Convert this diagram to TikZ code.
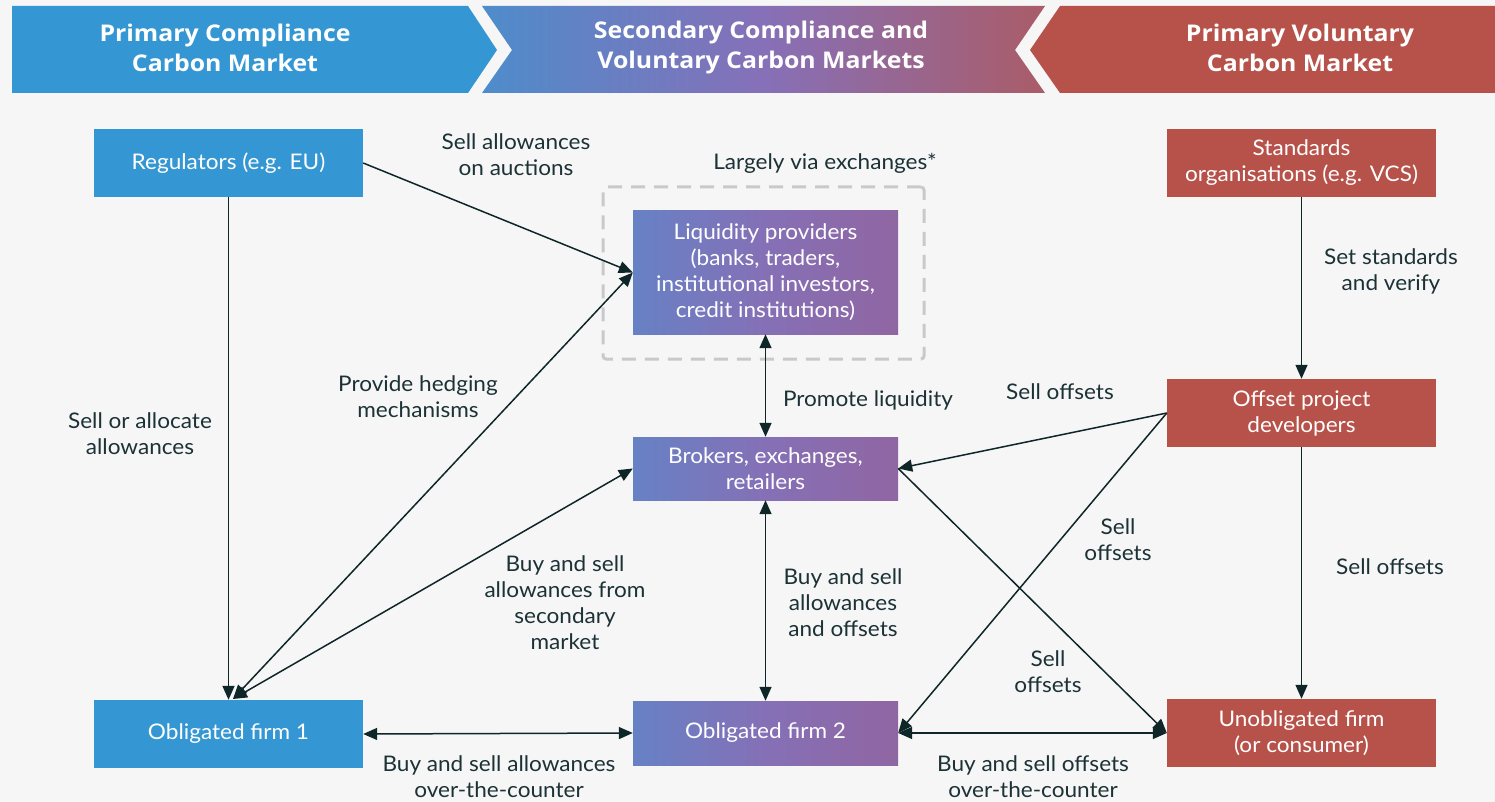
\documentclass[tikz,border=0pt]{standalone}
\usepackage{fontspec}
\setmainfont{Lato}[FakeStretch=1.05]
\newfontfamily\bannerfont{Open Sans}[FakeStretch=1.08]
\usetikzlibrary{arrows.meta}

\definecolor{bg}{HTML}{F6F6F6}
\definecolor{pblue}{HTML}{3497D3}
\definecolor{pred}{HTML}{B7524A}
\definecolor{gleft}{HTML}{6781C5}
\definecolor{gmid}{HTML}{8570B6}
\definecolor{gright}{HTML}{9066A2}
\definecolor{hleft}{HTML}{4E8CCB}
\definecolor{hmid}{HTML}{8670B8}
\definecolor{hright}{HTML}{AA5C68}
\definecolor{ink}{HTML}{1C3236}
\definecolor{arrowink}{HTML}{0F2629}
\definecolor{dashgray}{HTML}{C9C9C9}

\newcommand{\diagbody}{\fontsize{21.5}{26}\selectfont}
\newcommand{\diaghead}{\bannerfont\fontsize{23}{30}\selectfont\bfseries}

\begin{document}
\begin{tikzpicture}[x=1pt,y=-1pt,
  mbox/.style={inner sep=0pt,align=center,text=white,font=\diagbody},
  bluebox/.style={mbox,fill=pblue,minimum width=269pt,minimum height=68pt},
  redbox/.style={mbox,fill=pred,minimum width=269pt,minimum height=68pt},
  gradbox/.style={mbox,left color=gleft,right color=gright,middle color=gmid,minimum width=265pt},
  lbl/.style={inner sep=0pt,align=center,text=ink,font=\diagbody},
  hdr/.style={inner sep=0pt,align=center,text=white,font=\diaghead},
  arr/.style={draw=arrowink,line width=1.5pt,-{Triangle[length=14pt,width=12pt]}},
  dblarr/.style={draw=arrowink,line width=1.5pt,{Triangle[length=14pt,width=12pt]}-{Triangle[length=14pt,width=12pt]}},
]
% canvas
\useasboundingbox (0,0) rectangle (1495,802);
\fill[bg] (0,0) rectangle (1495,802);

% header banner
\fill[pblue] (12,6) -- (468,6) -- (497,50) -- (468,93) -- (12,93) -- cycle;
\path[left color=hleft,right color=hright,middle color=hmid]
  (482,6) -- (1045,6) -- (1015,50) -- (1045,93) -- (482,93) -- (512,50) -- cycle;
\fill[pred] (1060,6) -- (1495,6) -- (1495,93) -- (1060,93) -- (1030,50) -- cycle;
\node[hdr] (h1) at (225,48) {Primary Compliance\\Carbon Market};
\node[hdr] (h2) at (761,48) {Secondary Compliance and\\Voluntary Carbon Markets};
\node[hdr] (h3) at (1300,48) {Primary Voluntary\\Carbon Market};

% exchange group outline
\node[draw=dashgray,line width=3pt,dash pattern=on 14pt off 9pt,rounded corners=3pt,
      minimum width=321pt,minimum height=172pt,inner sep=0pt] (grp) at (763.5,273) {};
\node[lbl] (grplbl) at (825,163) {Largely via exchanges*};

% actors
\node[bluebox] (reg) at (228.5,163) {Regulators (e.g. EU)};
\node[bluebox] (f1) at (228.5,734) {Obligated firm 1};
\node[gradbox,minimum height=123pt] (liq) at (765.5,272.5)
  {Liquidity providers\\(banks, traders,\\institutional investors,\\credit institutions)};
\node[gradbox,minimum height=63pt] (brk) at (765.5,468.5) {Brokers, exchanges,\\retailers};
\node[gradbox,minimum height=64pt] (f2) at (765.5,733) {Obligated firm 2};
\node[redbox] (std) at (1301.5,163) {Standards\\organisations (e.g. VCS)};
\node[redbox] (opd) at (1301.5,413) {Offset project\\developers};
\node[redbox] (unob) at (1301.5,733) {Unobligated firm\\(or consumer)};

\coordinate (f1top) at (233,699);

% flows
\draw[arr] (reg.east) -- (liq.west);
\draw[arr] (reg.south) -- (f1.north);
\draw[dblarr] (f1top) -- (liq.west);
\draw[dblarr] (f1top) -- (brk.west);
\draw[dblarr] (liq.south) -- (brk.north);
\draw[dblarr] (brk.south) -- (f2.north);
\draw[dblarr] (f1.east) -- (f2.west);
\draw[dblarr] (f2.east) -- (unob.west);
\draw[arr] (std.south) -- (opd.north);
\draw[arr] (opd.south) -- (unob.north);
\draw[arr] (opd.west) -- (brk.east);
\draw[arr] (opd.west) -- (f2.east);
\draw[arr] (brk.east) -- (unob.west);

% flow labels
\node[lbl] (l1) at (516,155) {Sell allowances\\on auctions};
\node[lbl] (l2) at (140,434) {Sell or allocate\\allowances};
\node[lbl] (l3) at (418,397) {Provide hedging\\mechanisms};
\node[lbl] (l4) at (868,400) {Promote liquidity};
\node[lbl] (l5) at (1060,392) {Sell offsets};
\node[lbl] (l6) at (565,603) {Buy and sell\\allowances from\\secondary\\market};
\node[lbl] (l7) at (843,603) {Buy and sell\\allowances\\and offsets};
\node[lbl] (l8) at (1118,540) {Sell\\offsets};
\node[lbl] (l9) at (1048,672) {Sell\\offsets};
\node[lbl] (l10) at (1390,567) {Sell offsets};
\node[lbl] (l11) at (1391,271) {Set standards\\and verify};
\node[lbl] (l12) at (499,777) {Buy and sell allowances\\over-the-counter};
\node[lbl] (l13) at (1033,777) {Buy and sell offsets\\over-the-counter};
\end{tikzpicture}
\end{document}
